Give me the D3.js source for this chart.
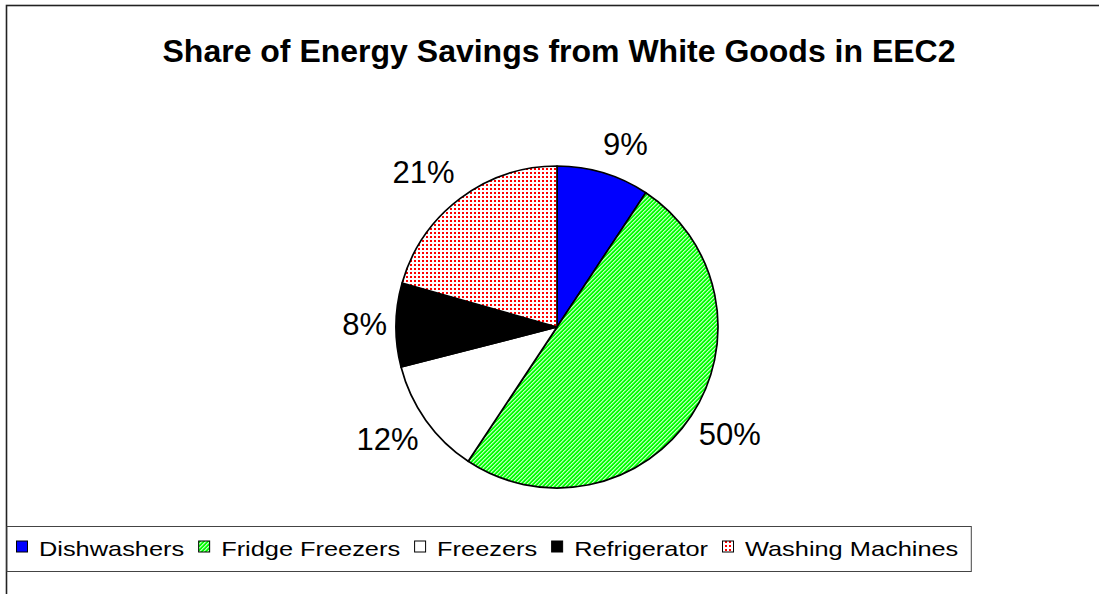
<!DOCTYPE html>
<html>
<head>
<meta charset="utf-8">
<script src="https://cdn.jsdelivr.net/npm/d3@7/dist/d3.min.js"></script>
<style>
  html, body { margin: 0; padding: 0; background: #fff; }
  svg { display: block; }
  text { font-family: "Liberation Sans", Arial, sans-serif; }
</style>
</head>
<body>
<svg id="chart" width="1099" height="594"></svg>
<script>
// ---- data ----
const categories = ["Dishwashers", "Fridge Freezers", "Freezers", "Refrigerator", "Washing Machines"];
const values = [9.3, 50.0, 11.7, 8.4, 20.6];
const title = "Share of Energy Savings from White Goods in EEC2";

// ---- layout / style ----
const W = 1099, H = 594;
const cx = 557, cy = 327, R = 161;
const fills = ["#0000FF", "url(#patFridge)", "#FFFFFF", "#000000", "url(#patWash)"];

const svg = d3.select("#chart");
const defs = svg.append("defs");

// Fridge freezers: green upward diagonal stripes (4px period)
const pf = defs.append("pattern").attr("id", "patFridge")
  .attr("patternUnits", "userSpaceOnUse").attr("width", 4).attr("height", 4);
pf.append("rect").attr("width", 4).attr("height", 4).attr("fill", "#fff");
[-2.7, 1.3, 5.3].forEach(k => {
  pf.append("line").attr("x1", k + 2).attr("y1", -2).attr("x2", -2).attr("y2", k + 2)
    .attr("stroke", "#00FF00").attr("stroke-width", 2.0);
});
// Washing machines: red dot grid
const pw = defs.append("pattern").attr("id", "patWash")
  .attr("patternUnits", "userSpaceOnUse").attr("width", 4).attr("height", 4);
pw.append("rect").attr("width", 4).attr("height", 4).attr("fill", "#fff");
pw.append("rect").attr("x", 1).attr("y", 1).attr("width", 2).attr("height", 2)
  .attr("fill", "#FF0000").attr("shape-rendering", "crispEdges");

// outer frame (right/bottom edges lie outside the picture)
svg.append("rect").attr("x", 6.5).attr("y", 5.5).attr("width", W + 20).attr("height", H + 20)
  .attr("fill", "#fff").attr("stroke", "#222").attr("stroke-width", 1.6);

// title
svg.append("text").attr("x", 559).attr("y", 62).attr("text-anchor", "middle")
  .attr("font-size", 32).attr("font-weight", "bold").attr("fill", "#000").text(title);

// pie
const pie = d3.pie().sort(null).value(d => d);
const arcs = pie(values);
const arc = d3.arc().innerRadius(0).outerRadius(R);
const g = svg.append("g").attr("transform", `translate(${cx},${cy})`);
g.selectAll("path.slice").data(arcs).enter().append("path")
  .attr("class", "slice")
  .attr("d", arc)
  .attr("fill", (d, i) => fills[i])
  .attr("stroke", "#000").attr("stroke-width", 1.7).attr("stroke-linejoin", "round");

// labels
const total = d3.sum(values);
const labelArc = d3.arc().innerRadius(R + 9).outerRadius(R + 9);
const clamp = v => Math.max(-1, Math.min(1, v));
arcs.forEach((d, i) => {
  const a = (d.startAngle + d.endAngle) / 2;
  const [ax, ay] = labelArc.centroid(d);
  const t = g.append("text").attr("font-size", 31).attr("fill", "#000")
    .attr("text-anchor", "middle")
    .text(Math.round(values[i] / total * 100) + "%");
  const w = t.node().getComputedTextLength();
  const cosA = Math.cos(a);
  const h = cosA > 0 ? 40 : 26;
  const x = ax + (w / 2) * clamp(Math.sin(a) * 3);
  const y = ay - (h / 2) * clamp(cosA * 3);
  t.attr("x", x).attr("y", y).attr("dy", "0.36em");
});

// legend
const sx = 1.238;
const legTop = 526, legBot = 571;
const legMid = (legTop + legBot) / 2;
const lg = svg.append("g");
let xpos = 16;
categories.forEach((c, i) => {
  lg.append("rect").attr("x", xpos + 0.5).attr("y", legMid - 7.5).attr("width", 11).attr("height", 11)
    .attr("fill", fills[i]).attr("stroke", "#000").attr("stroke-width", 1);
  const tx = xpos + 23;
  const t = lg.append("text").attr("font-size", 20.5).attr("fill", "#000")
    .attr("transform", `translate(${tx},${legMid + 7.5}) scale(${sx},1)`).text(c);
  const tw = t.node().getComputedTextLength() * sx;
  xpos = tx + tw + 14;
});
const legRight = xpos - 14 + 13;
lg.insert("rect", ":first-child").attr("x", 7).attr("y", legTop + 0.5).attr("width", legRight - 7).attr("height", legBot - legTop)
  .attr("fill", "#fff").attr("stroke", "#444").attr("stroke-width", 1);
</script>
</body>
</html>
